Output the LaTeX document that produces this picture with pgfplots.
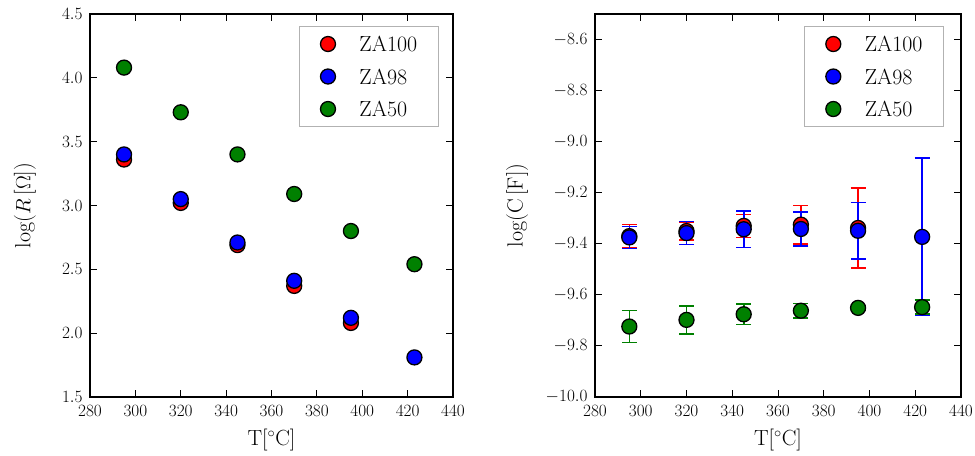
\documentclass[border=0pt]{standalone}
\usepackage{pgfplots}
\pgfplotsset{compat=1.18}
\usepackage{pgfplotstable}

\definecolor{mplred}{rgb}{1,0,0}
\definecolor{mplblue}{rgb}{0,0,1}
\definecolor{mplgreen}{rgb}{0,0.5,0}

% log(R) vs temperature
\pgfplotstableread{
T    y
295  3.36
320  3.02
345  2.69
370  2.37
395  2.08
}\resZAhundred
\pgfplotstableread{
T    y
295  3.40
320  3.05
345  2.71
370  2.41
395  2.12
423  1.81
}\resZAninetyeight
\pgfplotstableread{
T    y
295  4.08
320  3.73
345  3.40
370  3.09
395  2.80
423  2.54
}\resZAfifty

% log(C) vs temperature, with errors
\pgfplotstableread{
T    y       e
295  -9.370  0.045
320  -9.350  0.035
345  -9.330  0.045
370  -9.325  0.075
395  -9.338  0.157
}\capZAhundred
\pgfplotstableread{
T    y       e
295  -9.375  0.043
320  -9.358  0.045
345  -9.343  0.071
370  -9.342  0.066
395  -9.349  0.110
423  -9.373  0.308
}\capZAninetyeight
\pgfplotstableread{
T    y       e
295  -9.724  0.062
320  -9.698  0.055
345  -9.676  0.040
370  -9.662  0.028
395  -9.651  0.010
423  -9.648  0.028
}\capZAfifty

\newcommand\labelfont{\fontsize{22}{26}\selectfont}

\pgfplotsset{
  mplaxis/.style={
    anchor=south west,
    width=363bp, height=383bp, scale only axis,
    axis line style={line width=1.3bp},
    tick style={black, line width=1bp},
    major tick length=7bp,
    tick align=inside,
    xtick pos=both, ytick pos=both,
    xmin=280, xmax=440,
    xtick={280,300,...,440},
    tick label style={font=\fontsize{16.5}{19}\selectfont},
    xticklabel style={yshift=-5bp},
    yticklabel style={xshift=-4bp},
    /pgf/number format/.cd, fixed, 1000 sep={},
    /pgfplots/.cd,
    every axis x label/.style={at={(axis description cs:0.5,-0.112)}, anchor=center, font=\labelfont},
    legend cell align=left,
    legend image code/.code={%
      \draw[mark repeat=2,mark phase=2,##1] plot coordinates {(0bp,0bp)(12bp,0bp)(24bp,0bp)};},
    legend style={anchor=north east, draw=black!30, line width=1.3bp,
      font=\labelfont,
      inner xsep=21bp, inner ysep=10bp, column sep=24bp, row sep=17.5bp,
      nodes={inner sep=0pt, text height=15bp, text depth=0pt}},
  },
  ser/.style={only marks, mark=*, mark size=7.5bp,
    mark options={fill=#1, draw=black, line width=1.3bp}},
  eb/.style={error bars/.cd, y dir=both, y explicit,
    error bar style={#1, line width=1.6bp},
    error mark options={#1, rotate=90, mark size=7.5bp, line width=1.6bp}},
}

\begin{document}
\begin{tikzpicture}[x=1bp,y=1bp]
\useasboundingbox (0,0) rectangle (975,456);

\begin{axis}[mplaxis, at={(90bp,59bp)},
  ymin=1.5, ymax=4.5, ytick={1.5,2.0,...,4.5},
  yticklabel style={/pgf/number format/.cd, fixed, fixed zerofill, precision=1},
  xlabel={T[$^\circ$C]},
  ylabel={log($R$\,[$\Omega$])},
  every axis y label/.style={at={(axis description cs:-0.179,0.5)}, rotate=90, anchor=center, font=\labelfont},
  legend style={at={(0.961,0.969)}},
]
\addplot[ser=mplred] table[x=T, y=y] {\resZAhundred};
\addlegendentry{ZA100}
\addplot[ser=mplblue] table[x=T, y=y] {\resZAninetyeight};
\addlegendentry{ZA98}
\addplot[ser=mplgreen] table[x=T, y=y] {\resZAfifty};
\addlegendentry{ZA50}
\end{axis}

\begin{axis}[mplaxis, at={(595bp,59bp)}, width=366bp,
  ymin=-10, ymax=-8.5, ytick={-10,-9.8,...,-8.55},
  yticklabel style={/pgf/number format/.cd, fixed, fixed zerofill, precision=1},
  xlabel={T[$^\circ$C]},
  ylabel={log(C\,[F])},
  every axis y label/.style={at={(axis description cs:-0.213,0.5)}, rotate=90, anchor=center, font=\labelfont},
  legend style={at={(0.954,0.969)}},
]
\addplot[ser=mplred, eb=mplred] table[x=T, y=y, y error=e] {\capZAhundred};
\addlegendentry{ZA100}
\addplot[ser=mplblue, eb=mplblue] table[x=T, y=y, y error=e] {\capZAninetyeight};
\addlegendentry{ZA98}
\addplot[ser=mplgreen, eb=mplgreen] table[x=T, y=y, y error=e] {\capZAfifty};
\addlegendentry{ZA50}
\end{axis}
\end{tikzpicture}
\end{document}
